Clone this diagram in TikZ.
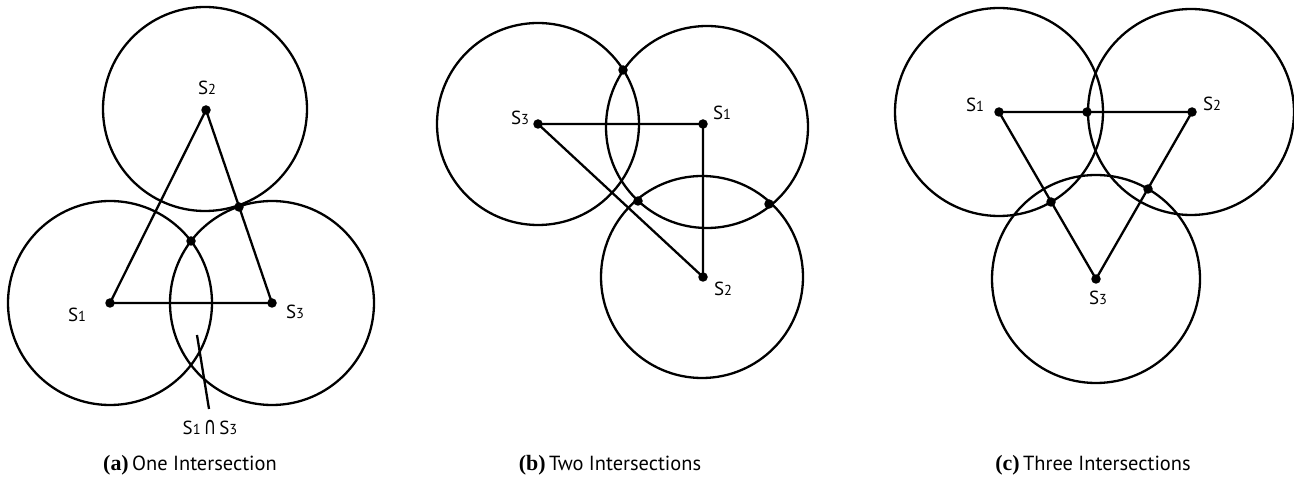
\documentclass[tikz,border=0pt]{standalone}
\usepackage{graphicx}
\usepackage{fontspec}
\setmainfont{Liberation Serif}
\setsansfont{PT Sans}
\newfontfamily\capsym{DejaVu Sans}
\newcommand\sidx[1]{{\fontsize{14.5}{14.5}\selectfont #1}}

\begin{document}
\begin{tikzpicture}[x=1bp, y=-1bp,
    ring/.style={draw, line width=2.3bp},
    edge/.style={line width=2.3bp},
    dot/.style={circle, fill, inner sep=0pt, minimum size=9.5bp},
    lbl/.style={font=\sffamily\fontsize{19}{19}\selectfont, inner sep=0pt},
    subcap/.style={font=\sffamily\fontsize{20.5}{20.5}\selectfont, inner sep=0pt}
]
\path[use as bounding box] (0,0) rectangle (1294,480);

% (a) one intersection
\draw[ring] (110,303) circle (102);
\draw[ring] (205,109) circle (102);
\draw[ring] (272,303) circle (102);
\node[dot] (a1) at (110,303) {};
\node[dot] (a2) at (206,110) {};
\node[dot] (a3) at (272,303) {};
\node[dot] (a13) at (191,241) {};
\node[dot] (a23) at (239,207) {};
\draw[edge] (a1.center) -- (a2.center) -- (a3.center) -- cycle;
\node[lbl] (la1) at (77,315) {S\sidx{1}};
\node[lbl] (la2) at (207,88) {S\sidx{2}};
\node[lbl] (la3) at (295,312) {S\sidx{3}};
\coordinate (lens) at (197,335);
\coordinate (lensend) at (209,409);
\node[lbl] (lsect) at (210,428) {S\sidx{1}\,{\capsym\fontsize{17}{17}\selectfont\scalebox{1}[1.45]{∩}}\,S\sidx{3}};
\draw[edge] (lens) -- (lensend);
\node[subcap] (capa) at (190,465) {{\rmfamily\bfseries\fontsize{22}{22}\selectfont(a)}\,One Intersection};

% (b) two intersections
\draw[ring] (538,124) circle (101);
\draw[ring] (707,127) circle (101);
\draw[ring] (702,277) circle (101);
\node[dot] (b1) at (703,124) {};
\node[dot] (b2) at (703,277) {};
\node[dot] (b3) at (538,124) {};
\node[dot] (b13) at (623,70) {};
\node[dot] (b12l) at (638,201) {};
\node[dot] (b12r) at (769,204) {};
\draw[edge] (b3.center) -- (b1.center) -- (b2.center) -- cycle;
\node[lbl] (lb1) at (722,113) {S\sidx{1}};
\node[lbl] (lb2) at (723,289) {S\sidx{2}};
\node[lbl] (lb3) at (520,118) {S\sidx{3}};
\node[subcap] (capb) at (610,465) {{\rmfamily\bfseries\fontsize{22}{22}\selectfont(b)}\,Two Intersections};

% (c) three intersections
\draw[ring] (999,112) circle (104);
\draw[ring] (1191,112) circle (103);
\draw[ring] (1096,279) circle (104);
\node[dot] (c1) at (999,112) {};
\node[dot] (c2) at (1192,112) {};
\node[dot] (c3) at (1096,279) {};
\node[dot] (c12) at (1087,112) {};
\node[dot] (c13) at (1051,202) {};
\node[dot] (c23) at (1148,189) {};
\draw[edge] (c1.center) -- (c2.center) -- (c3.center) -- cycle;
\node[lbl] (lc1) at (975,105) {S\sidx{1}};
\node[lbl] (lc2) at (1212,104) {S\sidx{2}};
\node[lbl] (lc3) at (1098,298) {S\sidx{3}};
\node[subcap] (capc) at (1093,465) {{\rmfamily\bfseries\fontsize{22}{22}\selectfont(c)}\,Three Intersections};
\end{tikzpicture}
\end{document}
